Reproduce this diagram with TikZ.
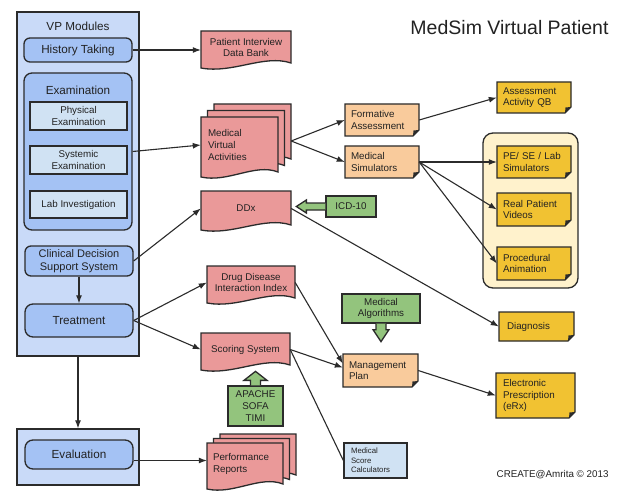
\documentclass[tikz,border=0pt]{standalone}
\usepackage{fontspec}
\setmainfont{Liberation Sans}
\usetikzlibrary{arrows.meta,calc}
\definecolor{bord}{HTML}{2B2B2B}
\definecolor{panel}{HTML}{C9DAF8}
\definecolor{mblue}{HTML}{A4C2F4}
\definecolor{lblue}{HTML}{D0E2F3}
\definecolor{red1}{HTML}{EA9999}
\definecolor{org}{HTML}{F9CB9C}
\definecolor{yel}{HTML}{F1C232}
\definecolor{lyel}{HTML}{FFF2CC}
\definecolor{grn}{HTML}{93C47D}
\definecolor{txt}{HTML}{222222}
% style, name, x1, y1, x2, y2, text
\newcommand\rnode[7]{\node[inner sep=0pt, text=txt, minimum width={(#5-#3)*1pt}, minimum height={(#6-#4)*1pt}, #1] (#2) at ({(#3+#5)/2},{(#4+#6)/2}) {#7};}
% style, name, x1, y1, x2, y2, fill, text
\newcommand\notebox[8]{%
  \draw[ln, fill=#7] (#3,#4) -- (#5,#4) -- (#5,#6-6) -- (#5-6,#6) -- (#3,#6) -- cycle;
  \fill[bord] (#5,#6-6) -- (#5-6,#6) -- (#5-5.5,#6-5.5) -- cycle;
  \rnode{#1}{#2}{#3}{#4}{#5}{#6}{#8}}
\newcommand\docbox[8]{%
  \draw[ln, fill=#7] (#3,#4) -- (#5,#4) -- (#5,#6-5) .. controls ({#3+0.7*(#5-#3)},#6-14) and ({#3+0.35*(#5-#3)},#6+6) .. (#3,#6) -- cycle;
  \rnode{#1}{#2}{#3}{#4}{#5}{#6-4}{#8}}
\begin{document}
\begin{tikzpicture}[x=1pt,y=-1pt,
  ln/.style={draw=bord, line width=1.3pt},
  con/.style={draw=bord, line width=1.1pt, -{Latex[length=8pt,width=6pt]}},
  plain/.style={draw=bord, line width=1.1pt},
  f12/.style={font=\fontsize{11.7}{13.5}\selectfont},
  f11/.style={font=\fontsize{11}{12.8}\selectfont},
  f10/.style={font=\fontsize{9.8}{11.6}\selectfont},
  f8/.style={font=\fontsize{7.8}{9.6}\selectfont},
  lt/.style={align=left, text width=#1}]
\useasboundingbox (0,0) rectangle (624,492);
\fill[white] (0,0) rectangle (624,492);

% left panel
\rnode{ln,fill=panel}{panel}{17}{12}{139}{356}{}
\node[f12,text=txt] (vpt) at (78,26) {VP Modules};
\rnode{ln,fill=mblue,rounded corners=6pt,f12}{hist}{24}{38}{132}{62}{History Taking}
\rnode{ln,fill=mblue,rounded corners=8pt}{exam}{24}{73}{132}{230}{}
\node[f12,text=txt] (examt) at (78,90) {Examination};
\rnode{ln,fill=lblue,f10,align=center}{phys}{30}{102}{127}{130}{Physical\\Examination}
\rnode{ln,fill=lblue,f10,align=center}{sysx}{30}{146}{127}{174}{Systemic\\Examination}
\rnode{ln,fill=lblue,f10}{lab}{30}{191}{127}{218}{Lab Investigation}
\rnode{ln,fill=mblue,rounded corners=6pt,f11,align=center}{cdss}{25}{246}{133}{276}{Clinical Decision\\Support System}
\rnode{ln,fill=mblue,rounded corners=8pt,f12}{treat}{25}{304}{133}{337}{Treatment}
\rnode{ln,fill=panel}{evpanel}{17}{429}{139}{485}{}
\rnode{ln,fill=mblue,rounded corners=8pt,f12}{eval}{25}{440}{133}{469}{Evaluation}

% title and credit
\node[anchor=east,text=txt,font=\fontsize{19.5}{22}\selectfont] (title) at (612,28) {MedSim Virtual Patient};
\node[anchor=east,text=txt,font=\fontsize{9.8}{11}\selectfont] (credit) at (612,475) {CREATE@Amrita © 2013};

% red documents
\docbox{f10,align=center}{pidb}{201}{31}{291}{68}{red1}{Patient Interview\\Data Bank}
\docbox{}{mvaB}{214}{104}{291}{164}{red1}{}
\docbox{}{mvaM}{207.5}{110.5}{284.5}{170.5}{red1}{}
\docbox{f10,lt=63pt}{mva}{201}{117}{278}{177}{red1}{Medical\\Virtual\\Activities}
\docbox{f10}{ddx}{201}{191}{291}{230}{red1}{DDx}
\docbox{f10,align=center}{ddi}{207}{266}{295}{303}{red1}{Drug Disease\\Interaction Index}
\docbox{f10}{score}{201}{333}{290}{370}{red1}{Scoring System}
\docbox{}{prB}{220}{434}{296}{480}{red1}{}
\docbox{}{prM}{213.5}{438.5}{289.5}{484.5}{red1}{}
\docbox{f10,lt=64pt}{prep}{207}{443}{283}{489}{red1}{Performance\\Reports}

% orange notes
\notebox{f10,lt=62pt}{form}{345}{104}{419}{136}{org}{Formative\\Assessment}
\notebox{f10,lt=62pt}{msim}{345}{146}{419}{178}{org}{Medical\\Simulators}
\notebox{f10,lt=63pt}{mplan}{343}{354}{418}{387}{org}{Management\\Plan}

% yellow notes
\notebox{f10,lt=62pt}{aqb}{497}{82}{571}{113}{yel}{Assessment\\Activity QB}
\rnode{ln,fill=lyel,rounded corners=10pt}{ygroup}{483}{133}{578}{288}{}
\notebox{f10,lt=62pt}{pese}{497}{146}{571}{178}{yel}{PE/ SE / Lab\\Simulators}
\notebox{f10,lt=62pt}{rpv}{497}{193}{571}{226}{yel}{Real Patient\\Videos}
\notebox{f10,lt=62pt}{pa}{497}{247}{571}{280}{yel}{Procedural\\Animation}
\notebox{f10,lt=59pt}{diag}{499}{312}{574}{341}{yel}{Diagnosis}
\notebox{f10,lt=65pt}{erx}{496}{373}{575}{418}{yel}{Electronic\\Prescription\\(eRx)}

% light blue calculator box
\rnode{ln,fill=lblue,f8,lt=49pt}{msc}{344}{443}{407}{478}{Medical\\Score\\Calculators}

% green inputs
\rnode{ln,fill=grn,f10}{icd}{326}{196}{376}{217}{ICD-10}
\draw[ln,fill=grn] ($(icd.west)+(0,-3.5)$) -- ++(-19,0) -- ++(0,-3) -- ++(-10,6.5) -- ++(10,6.5) -- ++(0,-3) -- ++(19,0);
\rnode{ln,fill=grn,f10,align=center}{apache}{228}{386}{283}{426}{APACHE\\SOFA\\TIMI}
\draw[ln,fill=grn] ($(apache.north)+(-5,0)$) -- ++(0,-5) -- ++(-6.5,0) -- ++(11.5,-9) -- ++(11.5,9) -- ++(-6.5,0) -- ++(0,5);
\rnode{ln,fill=grn,f10,align=center}{malg}{342}{294}{420}{323}{Medical\\Algorithms}
\draw[ln,fill=grn] ($(malg.south)+(-5,0)$) -- ++(0,6) -- ++(-3,0) -- ++(8,12) -- ++(8,-12) -- ++(-3,0) -- ++(0,-6);

% connectors
\draw[con] (hist.east) -- (hist.east -| pidb.west);
\draw[con] (exam.east) -- (mva.west);
\draw[con] ($(mvaB.east)+(0,9)$) -- (form.west);
\draw[con] ($(mvaB.east)+(0,9)$) -- (msim.west);
\draw[con] (form.east) -- (aqb.west);
\draw[con] (msim.east) -- (pese.west);
\draw[con] (msim.east) -- (rpv.west);
\draw[con] (msim.east) -- (pa.west);
\draw[con] (cdss.east) -- (ddx.west);
\draw[con] (ddx.east) -- (diag.west);
\draw[con] (cdss.south) -- (treat.north);
\draw[con] (treat.east) -- (ddi.west);
\draw[con] (treat.east) -- (score.west);
\draw[con] (ddi.east) -- ($(mplan.west)+(0,-7)$);
\draw[con] (score.east) -- ($(mplan.west)+(0,-3)$);
\draw[plain] (score.east) -- (msc.west);
\draw[con] (mplan.east) -- (erx.west);
\draw[con] (panel.south) -- (evpanel.north);
\coordinate (evout) at ($(eval.east)+(0,6)$);
\draw[con] (evout) -- (evout -| prep.west);
\end{tikzpicture}
\end{document}
